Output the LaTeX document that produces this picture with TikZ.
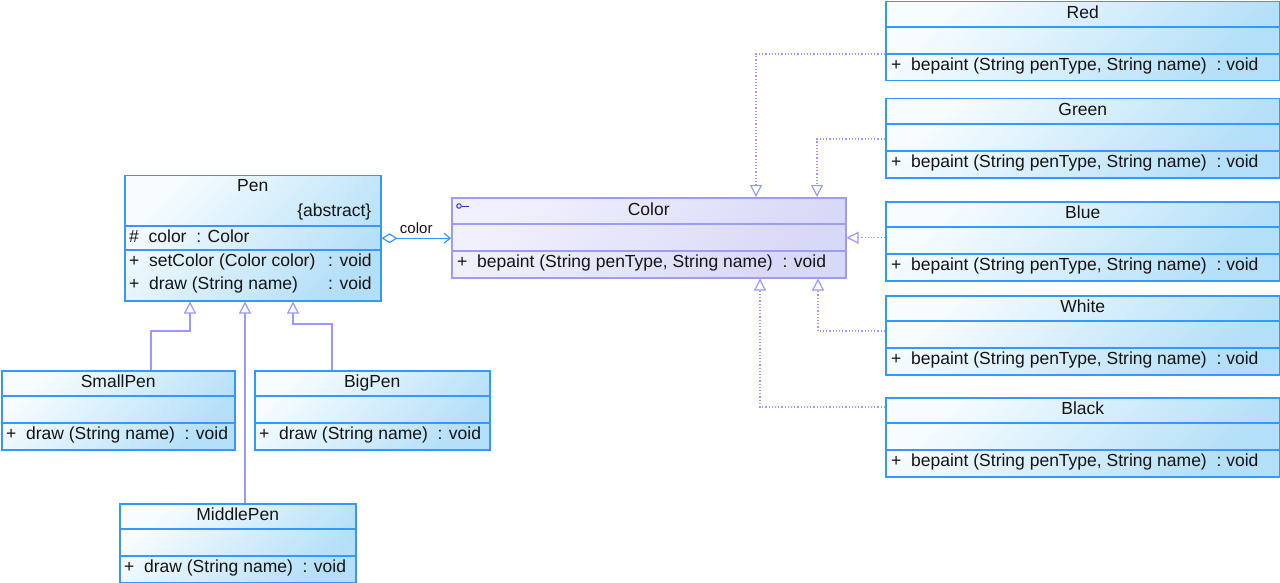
\documentclass[tikz,border=0pt]{standalone}
\usepackage{fontspec}
\setmainfont{Liberation Sans}
\usepackage{tikz}
\usetikzlibrary{arrows.meta,positioning}
\definecolor{clsline}{HTML}{3399FF}
\definecolor{clstop}{HTML}{F7FCFF}
\definecolor{clsbot}{HTML}{B3DFF8}
\definecolor{ifcline}{HTML}{9C9CF0}
\definecolor{ifctop}{HTML}{F0F0FE}
\definecolor{ifcbot}{HTML}{D8D8F7}
\definecolor{relline}{HTML}{9999FF}
\definecolor{icon}{HTML}{3030CC}
\definecolor{txt}{HTML}{141414}
\tikzset{
  clsbox/.style={draw=clsline,line width=1.5pt,top color=clstop,bottom color=clsbot,
    shading angle=45,anchor=north west,inner sep=0pt},
  ifcbox/.style={clsbox,draw=ifcline,top color=ifctop,bottom color=ifcbot,shading angle=45},
  sep/.style={draw=clsline,line width=1.5pt},
  ifcsep/.style={draw=ifcline,line width=1.5pt},
  clsname/.style={text=txt,inner sep=0pt,text height=12.5pt,text depth=3.5pt},
  clsop/.style={clsname,anchor=west},
  inherit/.style={draw=relline,line width=1.2pt,-{Triangle[open,length=12pt,width=12pt]}},
  realize/.style={inherit,dash pattern=on 1.2pt off 2pt},
  aggr/.style={draw=clsline,line width=1.2pt,
    {Diamond[open,length=16pt,width=10pt]}-{Straight Barb[length=6pt,width=10pt]}},
  every node/.style={font=\fontsize{17.5}{21}\selectfont}
}

\begin{document}
\begin{tikzpicture}[x=1pt,y=-1pt]
  \useasboundingbox (0,0) rectangle (1280,583);
  % abstract pen
  \node[clsbox,minimum width=256pt,minimum height=125pt] (Pen) at (124,175) {};
  \draw[sep] ([yshift=-51pt]Pen.north west) -- ([yshift=-51pt]Pen.north east);
  \draw[sep] ([yshift=-75pt]Pen.north west) -- ([yshift=-75pt]Pen.north east);
  \node[clsname] (Pen-name) at ([yshift=-12pt]Pen.north) {Pen};
  \node[clsname,anchor=east] (Pen-abs) at ([xshift=-10pt,yshift=-37pt]Pen.north east) {\{abstract\}};
  \node[clsop] (Pen-attr) at ([xshift=5pt,yshift=-63pt]Pen.north west) {\#~~color~~: Color};
  \node[clsop] (Pen-op1) at ([xshift=5pt,yshift=-87pt]Pen.north west) {+~~setColor (Color color)};
  \node[clsop] (Pen-op2) at ([xshift=5pt,yshift=-110pt]Pen.north west) {+~~draw (String name)};
  \node[clsop] (Pen-ret1) at ([xshift=204pt,yshift=-87pt]Pen.north west) {: void};
  \node[clsop] (Pen-ret2) at ([xshift=204pt,yshift=-110pt]Pen.north west) {: void};

  % concrete pens
  \foreach \nm/\xx/\yy/\ww in {SmallPen/1/370/233,BigPen/254/370/235,MiddlePen/119/503/236}{
    \node[clsbox,minimum width=\ww pt,minimum height=79pt] (\nm) at (\xx,\yy) {};
    \draw[sep] ([yshift=-26pt]\nm.north west) -- ([yshift=-26pt]\nm.north east);
    \draw[sep] ([yshift=-53pt]\nm.north west) -- ([yshift=-53pt]\nm.north east);
    \node[clsname] (\nm-name) at ([yshift=-13pt]\nm.north) {\nm};
    \node[clsop] (\nm-op) at ([xshift=5pt,yshift=-65pt]\nm.north west) {+~~draw (String name)~~: void};
  }

  % color interface
  \node[ifcbox,minimum width=394pt,minimum height=80pt] (Color) at (451,197) {};
  \draw[ifcsep] ([yshift=-27pt]Color.north west) -- ([yshift=-27pt]Color.north east);
  \draw[ifcsep] ([yshift=-54pt]Color.north west) -- ([yshift=-54pt]Color.north east);
  \node[circle,draw=icon,line width=1pt,inner sep=0pt,minimum size=4.5pt] (Color-icon)
    at ([xshift=8pt,yshift=-9pt]Color.north west) {};
  \draw[icon,line width=1pt] (Color-icon.east) -- ++(7,0);
  \node[clsname] (Color-name) at ([yshift=-14pt]Color.north) {Color};
  \node[clsop] (Color-op) at ([xshift=6pt,yshift=-66pt]Color.north west)
    {+~~bepaint (String penType, String name)~~: void};

  % concrete colors
  \foreach \nm/\yy in {Red/1,Green/98,Blue/201,White/295,Black/397}{
    \node[clsbox,minimum width=394pt,minimum height=79pt] (\nm) at (885,\yy) {};
    \draw[sep] ([yshift=-26pt]\nm.north west) -- ([yshift=-26pt]\nm.north east);
    \draw[sep] ([yshift=-53pt]\nm.north west) -- ([yshift=-53pt]\nm.north east);
    \node[clsname] (\nm-name) at ([yshift=-13pt]\nm.north) {\nm};
    \node[clsop] (\nm-op) at ([xshift=6pt,yshift=-65pt]\nm.north west)
      {+~~bepaint (String penType, String name)~~:~void};
  }

  % generalization
  \draw[inherit] ([xshift=150pt]SmallPen.north west) -- ++(0,-39) -| ([xshift=66pt]Pen.south west);
  \draw[inherit] ([xshift=126pt]MiddlePen.north west) -- ([xshift=121pt]Pen.south west);
  \draw[inherit] ([xshift=78pt]BigPen.north west) -- ++(0,-46) -| ([xshift=169pt]Pen.south west);

  % aggregation
  \draw[aggr] (Pen.east) -- (Pen.east -| Color.west)
    node[midway,above=1pt,font=\fontsize{15}{18}\selectfont,text=txt] {color};

  % realization
  \draw[realize] ([yshift=-53pt]Red.north west) -| ([xshift=305pt]Color.north west);
  \draw[realize] ([yshift=-41pt]Green.north west) -| ([xshift=366pt]Color.north west);
  \draw[realize] (Color.east -| Blue.west) -- (Color.east);
  \draw[realize] ([yshift=-36pt]White.north west) -| ([xshift=367pt]Color.south west);
  \draw[realize] ([yshift=-10pt]Black.north west) -| ([xshift=309pt]Color.south west);
\end{tikzpicture}
\end{document}
